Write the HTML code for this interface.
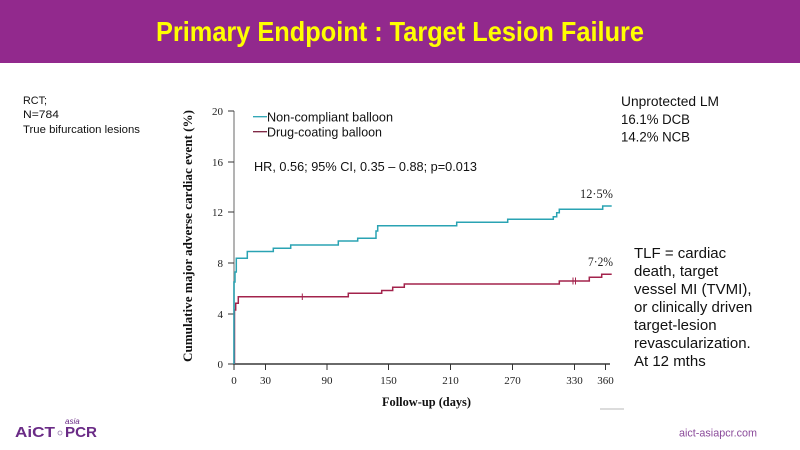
<!DOCTYPE html>
<html>
<head>
<meta charset="utf-8">
<style>
  html, body { margin:0; padding:0; background:#ffffff; }
  body { width:800px; height:450px; overflow:hidden; position:relative; }
  svg { position:absolute; left:0; top:0; }
</style>
</head>
<body>
<svg width="800" height="450" viewBox="0 0 800 450" xmlns="http://www.w3.org/2000/svg">
  <!-- header band -->
  <rect x="0" y="0" width="800" height="63" fill="#92298d"/>
  <text x="400" y="41" text-anchor="middle" font-family="Liberation Sans, sans-serif" font-weight="bold" font-size="28" fill="#ffff00" textLength="488" lengthAdjust="spacingAndGlyphs">Primary Endpoint : Target Lesion Failure</text>

  <!-- left notes -->
  <g font-family="Liberation Sans, sans-serif" font-size="11" fill="#111">
    <text x="23" y="104" textLength="24" lengthAdjust="spacingAndGlyphs">RCT;</text>
    <text x="23" y="118" textLength="36" lengthAdjust="spacingAndGlyphs">N=784</text>
    <text x="23" y="133" textLength="117" lengthAdjust="spacingAndGlyphs">True bifurcation lesions</text>
  </g>

  <!-- right notes -->
  <g font-family="Liberation Sans, sans-serif" font-size="13.5" fill="#111">
    <text x="621" y="106" textLength="98" lengthAdjust="spacingAndGlyphs">Unprotected LM</text>
    <text x="621" y="124" textLength="69" lengthAdjust="spacingAndGlyphs">16.1%  DCB</text>
    <text x="621" y="141.5" textLength="69" lengthAdjust="spacingAndGlyphs">14.2%  NCB</text>
  </g>

  <g font-family="Liberation Sans, sans-serif" font-size="15" fill="#111">
    <text x="634" y="258">TLF = cardiac</text>
    <text x="634" y="276">death, target</text>
    <text x="634" y="294">vessel MI (TVMI),</text>
    <text x="634" y="312">or clinically driven</text>
    <text x="634" y="330">target-lesion</text>
    <text x="634" y="348">revascularization.</text>
    <text x="634" y="366">At 12 mths</text>
  </g>

  <!-- axes -->
  <line x1="234" y1="111" x2="234" y2="364" stroke="#9a9a9a" stroke-width="1.5"/>
  <line x1="233" y1="364" x2="610" y2="364" stroke="#111" stroke-width="1.3"/>
  <!-- y ticks -->
  <g stroke="#333" stroke-width="1">
    <line x1="228" y1="111" x2="234" y2="111"/>
    <line x1="228" y1="162" x2="234" y2="162"/>
    <line x1="228" y1="212" x2="234" y2="212"/>
    <line x1="228" y1="263" x2="234" y2="263"/>
    <line x1="228" y1="314" x2="234" y2="314"/>
    <line x1="228" y1="364" x2="234" y2="364"/>
  </g>
  <g font-family="Liberation Serif, serif" font-size="11" fill="#222" text-anchor="end">
    <text x="223" y="115">20</text>
    <text x="223" y="166">16</text>
    <text x="223" y="216">12</text>
    <text x="223" y="267">8</text>
    <text x="223" y="318">4</text>
    <text x="223" y="368">0</text>
  </g>
  <!-- x ticks -->
  <g stroke="#333" stroke-width="1">
    <line x1="234" y1="364" x2="234" y2="370"/>
    <line x1="265.5" y1="364" x2="265.5" y2="370"/>
    <line x1="327" y1="364" x2="327" y2="370"/>
    <line x1="388.5" y1="364" x2="388.5" y2="370"/>
    <line x1="450.5" y1="364" x2="450.5" y2="370"/>
    <line x1="512.5" y1="364" x2="512.5" y2="370"/>
    <line x1="574.5" y1="364" x2="574.5" y2="370"/>
    <line x1="605.5" y1="364" x2="605.5" y2="370"/>
  </g>
  <g font-family="Liberation Serif, serif" font-size="11" fill="#222" text-anchor="middle">
    <text x="234" y="384">0</text>
    <text x="265.5" y="384">30</text>
    <text x="327" y="384">90</text>
    <text x="388.5" y="384">150</text>
    <text x="450.5" y="384">210</text>
    <text x="512.5" y="384">270</text>
    <text x="574.5" y="384">330</text>
    <text x="605.5" y="384">360</text>
  </g>

  <!-- axis titles -->
  <text x="426.5" y="406" text-anchor="middle" font-family="Liberation Serif, serif" font-weight="bold" font-size="12.5" fill="#111" textLength="89" lengthAdjust="spacingAndGlyphs">Follow-up (days)</text>
  <text transform="translate(192,236) rotate(-90)" text-anchor="middle" font-family="Liberation Serif, serif" font-weight="bold" font-size="12.5" fill="#111" textLength="252" lengthAdjust="spacingAndGlyphs">Cumulative major adverse cardiac event  (%)</text>

  <!-- legend -->
  <line x1="253" y1="116.7" x2="267" y2="116.7" stroke="#2aa3b3" stroke-width="1.3"/>
  <text x="267" y="121.5" font-family="Liberation Sans, sans-serif" font-size="12.5" fill="#111" textLength="126" lengthAdjust="spacingAndGlyphs">Non-compliant balloon</text>
  <line x1="253" y1="131.7" x2="267" y2="131.7" stroke="#7a1f3d" stroke-width="1.3"/>
  <text x="267" y="136.5" font-family="Liberation Sans, sans-serif" font-size="12.5" fill="#111" textLength="115" lengthAdjust="spacingAndGlyphs">Drug-coating balloon</text>

  <text x="254" y="171" font-family="Liberation Sans, sans-serif" font-size="12.7" fill="#111" textLength="223" lengthAdjust="spacingAndGlyphs">HR, 0.56; 95% CI, 0.35 – 0.88; p=0.013</text>

  <!-- series -->
  <path d="M234.5,364 V310 H235.7 V303.3 H238.3 V296.7 H348.3 V293.3 H381.7 V290.5 H392.7 V287.3 H404.3 V284 H559.3 V281 H589.3 V277.3 H601.7 V274.3 H611.7" fill="none" stroke="#a3234c" stroke-width="1.5"/>
  <g stroke="#a3234c" stroke-width="1">
    <line x1="302.3" y1="293.5" x2="302.3" y2="300"/>
    <line x1="573" y1="277.5" x2="573" y2="284.5"/>
    <line x1="575.5" y1="277.5" x2="575.5" y2="284.5"/>
  </g>
  <path d="M234,364 V282 H235 V272 H236.3 V258.3 H247.3 V251.5 H273.3 V248.3 H290.7 V245 H338.3 V241 H357.7 V238.3 H376 V231 H377.7 V225.7 H456.7 V222.3 H507.7 V219.3 H553.3 V216.7 H556.7 V212.7 H559.3 V209.3 H602.7 V206 H611.7" fill="none" stroke="#2aa3b3" stroke-width="1.5"/>

  <!-- end labels -->
  <text x="580" y="198" font-family="Liberation Serif, serif" font-size="12.5" fill="#222" textLength="33" lengthAdjust="spacingAndGlyphs">12·5%</text>
  <text x="588" y="266" font-family="Liberation Serif, serif" font-size="12.5" fill="#222" textLength="25" lengthAdjust="spacingAndGlyphs">7·2%</text>

  <!-- small artifact line -->
  <line x1="600" y1="409" x2="624" y2="409" stroke="#b8b8b8" stroke-width="1"/>

  <!-- logo -->
  <text x="15" y="437" font-family="Liberation Sans, sans-serif" font-weight="bold" font-size="15" fill="#6a2b86" textLength="40" lengthAdjust="spacingAndGlyphs">AiCT</text>
  <circle cx="60" cy="433" r="2" fill="none" stroke="#9a7fb0" stroke-width="0.8"/>
  <text x="65" y="424" font-family="Liberation Sans, sans-serif" font-style="italic" font-size="8" fill="#6a2b86">asia</text>
  <text x="65" y="437" font-family="Liberation Sans, sans-serif" font-weight="bold" font-size="15" fill="#6a2b86" textLength="32" lengthAdjust="spacingAndGlyphs">PCR</text>

  <text x="679" y="436.5" font-family="Liberation Sans, sans-serif" font-size="11" fill="#8a4a9a" textLength="78" lengthAdjust="spacingAndGlyphs">aict-asiapcr.com</text>
</svg>
</body>
</html>
